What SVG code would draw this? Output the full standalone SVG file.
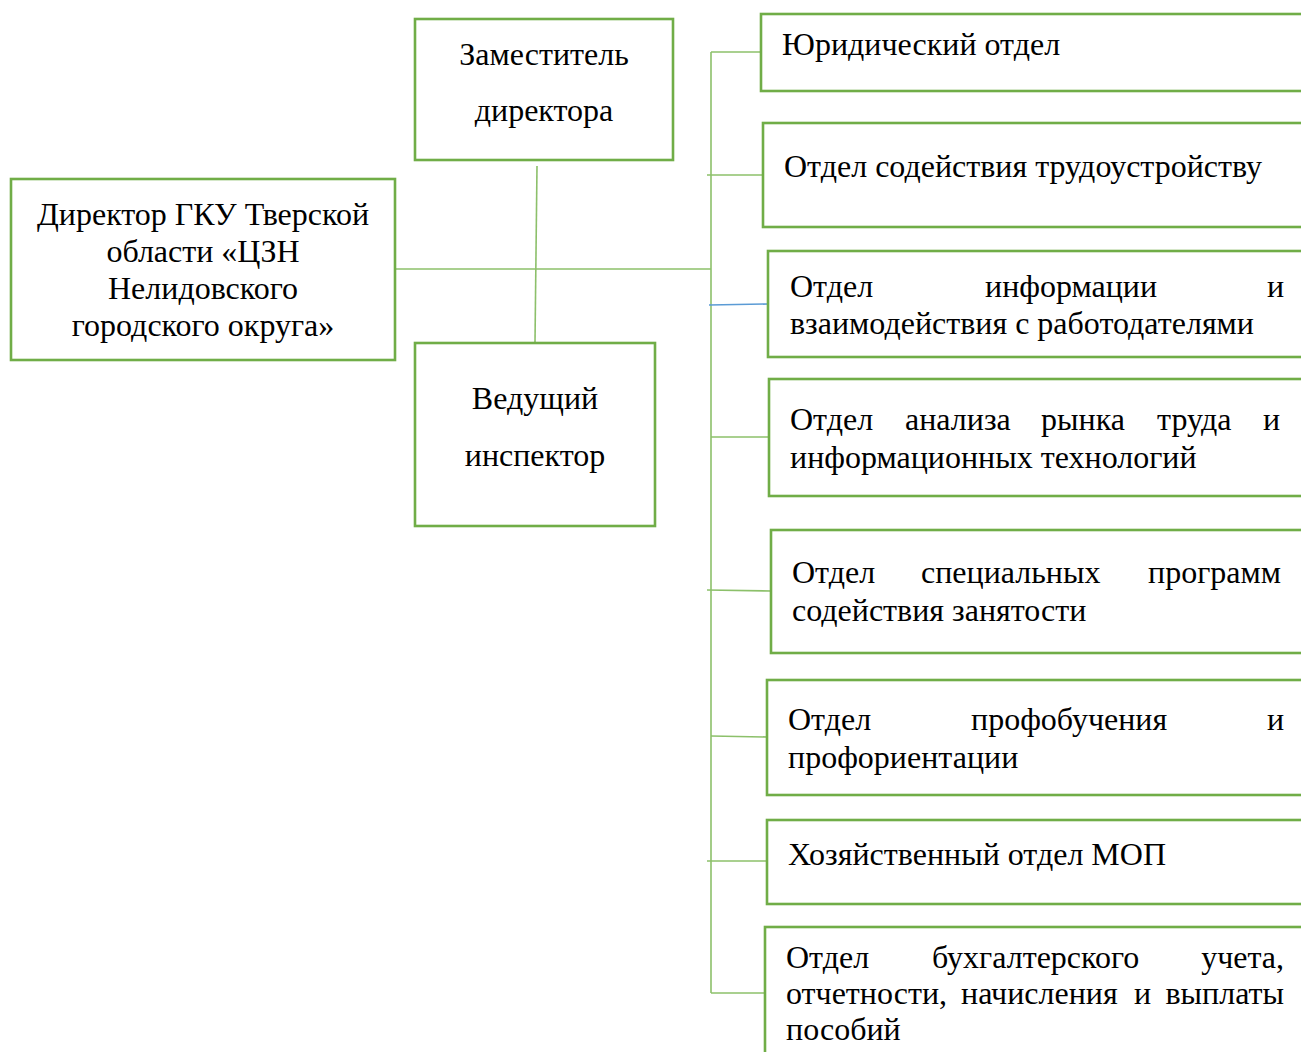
<svg xmlns="http://www.w3.org/2000/svg" width="1301" height="1052" viewBox="0 0 1301 1052">
<style>
.box{fill:#fff;stroke:#70AD47;stroke-width:2.6}
.ln{fill:none;stroke:#8CC06A;stroke-width:1.6}
.bl{fill:none;stroke:#5B9BD5;stroke-width:1.6}
text{font-family:"Liberation Serif","Times New Roman",serif;font-size:32px;fill:#000}
.c{text-anchor:middle}
.e{text-anchor:end}
</style>
<rect width="1301" height="1052" fill="#fff"/>
<g id="connectors">
<line class="ln" x1="395" y1="269" x2="711" y2="269"/>
<line class="ln" x1="537" y1="166" x2="535" y2="342"/>
<line class="ln" x1="711" y1="52" x2="711" y2="993"/>
<line class="ln" x1="711" y1="52" x2="761" y2="52"/>
<line class="ln" x1="707" y1="175" x2="763" y2="175"/>
<line class="bl" x1="709" y1="305" x2="768" y2="304"/>
<line class="ln" x1="711" y1="437" x2="769" y2="437"/>
<line class="ln" x1="707" y1="590" x2="771" y2="591"/>
<line class="ln" x1="711" y1="736" x2="767" y2="737"/>
<line class="ln" x1="707" y1="861" x2="767" y2="861"/>
<line class="ln" x1="711" y1="993" x2="765" y2="993"/>
</g>
<g id="director">
<rect class="box" x="11" y="179" width="384" height="181"/>
<text class="c" x="203" y="225">Директор ГКУ Тверской</text>
<text class="c" x="203" y="262">области «ЦЗН</text>
<text class="c" x="203" y="299">Нелидовского</text>
<text class="c" x="203" y="336">городского округа»</text>
</g>
<g id="deputy">
<rect class="box" x="415" y="19" width="258" height="141"/>
<text class="c" x="544" y="65">Заместитель</text>
<text class="c" x="544" y="121">директора</text>
</g>
<g id="inspector">
<rect class="box" x="415" y="343" width="240" height="183"/>
<text class="c" x="535" y="409">Ведущий</text>
<text class="c" x="535" y="466">инспектор</text>
</g>
<g id="legal">
<rect class="box" x="761" y="14" width="560" height="77"/>
<text x="782" y="55">Юридический отдел</text>
</g>
<g id="employment">
<rect class="box" x="763" y="123" width="560" height="104"/>
<text x="784" y="177">Отдел содействия трудоустройству</text>
</g>
<g id="info">
<rect class="box" x="768" y="251" width="560" height="106"/>
<text x="790" y="297">Отдел</text>
<text x="985" y="297">информации</text>
<text class="e" x="1284" y="297">и</text>
<text x="790" y="334">взаимодействия с работодателями</text>
</g>
<g id="analysis">
<rect class="box" x="769" y="379" width="560" height="117"/>
<text x="790" y="430">Отдел</text>
<text x="905" y="430">анализа</text>
<text x="1041" y="430">рынка</text>
<text x="1157" y="430">труда</text>
<text class="e" x="1280" y="430">и</text>
<text x="790" y="468">информационных технологий</text>
</g>
<g id="special">
<rect class="box" x="771" y="530" width="560" height="123"/>
<text x="792" y="583">Отдел</text>
<text x="921" y="583">специальных</text>
<text class="e" x="1281" y="583">программ</text>
<text x="792" y="621">содействия занятости</text>
</g>
<g id="training">
<rect class="box" x="767" y="680" width="560" height="115"/>
<text x="788" y="730">Отдел</text>
<text x="971" y="730">профобучения</text>
<text class="e" x="1284" y="730">и</text>
<text x="788" y="768">профориентации</text>
</g>
<g id="household">
<rect class="box" x="767" y="820" width="560" height="84"/>
<text x="788" y="865">Хозяйственный отдел МОП</text>
</g>
<g id="accounting">
<rect class="box" x="765" y="927" width="560" height="160"/>
<text x="786" y="968">Отдел</text>
<text x="932" y="968">бухгалтерского</text>
<text class="e" x="1284" y="968">учета,</text>
<text x="786" y="1004">отчетности,</text>
<text x="961" y="1004">начисления</text>
<text x="1134" y="1004">и</text>
<text class="e" x="1284" y="1004">выплаты</text>
<text x="786" y="1040">пособий</text>
</g>
</svg>
